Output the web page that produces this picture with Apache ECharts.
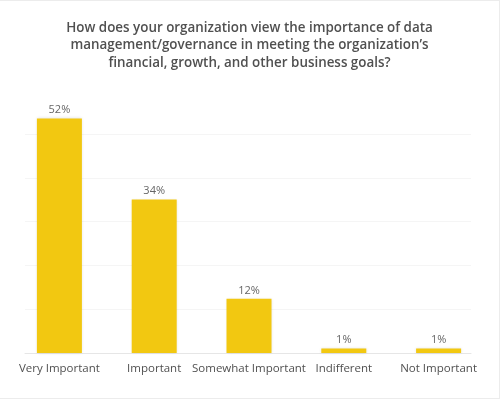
<!DOCTYPE html>
<html>
<head>
<meta charset="utf-8">
<script src="https://cdn.jsdelivr.net/npm/echarts@6/dist/echarts.min.js"></script>
<style>
  html, body { margin: 0; padding: 0; background: #fff; }
  #chart { width: 500px; height: 399px; box-sizing: border-box;
           border-top: 1px solid #ececec; border-right: 1px solid #ececec; border-bottom: 1px solid #ececec; }
</style>
</head>
<body>
<div id="chart"></div>
<script>
// data
var titleText = 'How does your organization view the importance of data\nmanagement/governance in meeting the organization\u2019s\nfinancial, growth, and other business goals?';
var categories = ['Very Important', 'Important', 'Somewhat Important', 'Indifferent', 'Not Important'];
var values = [52, 34, 12, 1, 1];

var barColor = '#F2C811',
    font = '"Open Sans", "Noto Sans", sans-serif';

var chart = echarts.init(document.getElementById('chart'), null, { renderer: 'canvas' });

var option = {
    animation: false,
    title: {
        text: titleText,
        left: 'center',
        top: 13,
        textStyle: {
            fontFamily: font,
            fontSize: 13.4,
            fontWeight: 600,
            color: '#505050',
            lineHeight: 17.5
        }
    },
    grid: [
        // bars
        { left: 12, right: 13, top: 89, bottom: 45 },
        // gridlines only
        { left: 25, right: 28, top: 133, bottom: 45 }
    ],
    xAxis: [{
        type: 'category',
        gridIndex: 0,
        data: categories,
        axisLine: { show: false },
        axisTick: { show: false },
        axisLabel: {
            fontFamily: font,
            fontSize: 11.5,
            color: '#505050',
            margin: 10,
            interval: 0
        }
    }, {
        type: 'value',
        gridIndex: 1,
        show: true,
        axisLine: { show: true, lineStyle: { color: '#e6e6e6', width: 1 } },
        axisTick: { show: false },
        axisLabel: { show: false },
        splitLine: { show: false }
    }],
    yAxis: [{
        type: 'value',
        gridIndex: 0,
        min: 0,
        max: 58.3,
        show: false,
        splitLine: { show: false }
    }, {
        type: 'value',
        gridIndex: 1,
        min: 0,
        max: 50,
        interval: 10,
        axisLine: { show: false },
        axisTick: { show: false },
        axisLabel: { show: false },
        splitLine: { lineStyle: { color: '#f5f5f5', width: 1 } }
    }],
    series: [{
        type: 'bar',
        xAxisIndex: 0,
        yAxisIndex: 0,
        data: values,
        barWidth: 45,
        itemStyle: {
            color: barColor,
            shadowColor: 'rgba(0,0,0,0.12)',
            shadowBlur: 3
        },
        label: {
            show: true,
            position: 'top',
            distance: 3,
            formatter: '{c}%',
            fontFamily: font,
            fontSize: 11,
            color: '#666'
        },
        z: 3
    }]
};

chart.setOption(option);
</script>
</body>
</html>
